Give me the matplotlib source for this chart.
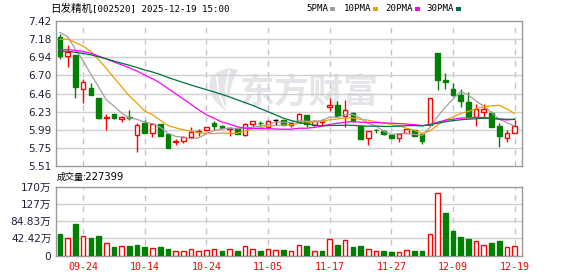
import matplotlib
matplotlib.use("Agg")
import matplotlib.pyplot as plt
import numpy as np
import pandas as pd
from matplotlib.patches import Rectangle, Polygon

# ---------------- data ----------------
dates = ["09-19", "09-22", "09-23", "09-24", "09-25", "09-26", "09-29", "09-30", "10-09", "10-10",
         "10-13", "10-14", "10-15", "10-16", "10-17", "10-20", "10-21", "10-22", "10-23", "10-24",
         "10-27", "10-28", "10-29", "10-30", "10-31", "11-03", "11-04", "11-05", "11-06", "11-07",
         "11-10", "11-11", "11-12", "11-13", "11-14", "11-17", "11-18", "11-19", "11-20", "11-21",
         "11-24", "11-25", "11-26", "11-27", "11-28", "12-01", "12-02", "12-03", "12-04", "12-05",
         "12-08", "12-09", "12-10", "12-11", "12-12", "12-15", "12-16", "12-17", "12-18", "12-19"]

opens = [7.215, 6.96, 6.975, 6.525, 6.535, 6.405, 6.14, 6.195, 6.125, 6.15,
         5.92, 6.075, 5.95, 6.06, 5.93, 5.83, 5.84, 5.89, 5.96, 5.99,
         6.08, 6.04, 6.00, 6.015, 5.92, 6.06, 6.075, 6.03, 6.11, 6.115,
         6.05, 6.085, 6.18, 6.055, 6.095, 6.285, 6.31, 6.17, 6.21, 6.04,
         5.875, 5.99, 5.97, 5.915, 5.88, 5.95, 5.98, 5.925, 6.05, 7.00,
         6.64, 6.52, 6.44, 6.35, 6.15, 6.22, 6.21, 6.04, 5.88, 5.95]
highs = [7.245, 7.10, 6.975, 6.65, 6.60, 6.405, 6.195, 6.20, 6.17, 6.245,
         6.075, 6.115, 6.06, 6.06, 5.93, 5.87, 5.905, 6.03, 5.995, 6.03,
         6.105, 6.045, 6.03, 6.015, 6.075, 6.10, 6.105, 6.11, 6.125, 6.115,
         6.09, 6.21, 6.18, 6.11, 6.125, 6.405, 6.36, 6.38, 6.22, 6.045,
         5.975, 6.00, 5.99, 5.915, 5.925, 6.01, 5.99, 5.94, 6.41, 7.00,
         6.73, 6.60, 6.52, 6.48, 6.33, 6.33, 6.24, 6.08, 5.98, 6.115]
lows = [6.925, 6.815, 6.41, 6.335, 6.44, 6.135, 5.99, 6.135, 6.095, 6.11,
        5.70, 5.945, 5.895, 5.905, 5.745, 5.79, 5.81, 5.89, 5.905, 5.98,
        5.99, 6.005, 5.91, 5.925, 5.91, 6.02, 6.04, 6.02, 6.055, 6.045,
        6.03, 6.07, 6.02, 6.035, 6.04, 6.24, 6.17, 6.02, 6.09, 5.86,
        5.785, 5.95, 5.92, 5.875, 5.83, 5.95, 5.90, 5.80, 6.05, 6.51,
        6.52, 6.43, 6.29, 6.16, 6.04, 6.15, 6.03, 5.765, 5.83, 5.95]
closes = [6.96, 7.01, 6.545, 6.62, 6.45, 6.14, 6.15, 6.14, 6.15, 6.14,
          6.05, 5.945, 6.06, 5.905, 5.75, 5.84, 5.895, 5.955, 5.965, 6.02,
          6.04, 6.01, 6.015, 5.93, 6.06, 6.10, 6.07, 6.105, 6.11, 6.05,
          6.08, 6.195, 6.06, 6.105, 6.10, 6.32, 6.17, 6.245, 6.10, 5.865,
          5.975, 5.985, 5.925, 5.875, 5.925, 5.995, 5.91, 5.845, 6.41, 6.645,
          6.61, 6.44, 6.36, 6.16, 6.26, 6.265, 6.03, 5.91, 5.94, 6.04]
# closes of the 29 sessions before the window (estimated from the MA lines)
prior_closes = [6.95, 7.00, 7.05, 6.98, 6.92, 6.96, 7.02, 7.00, 6.97, 6.95,
                6.90, 6.85, 6.88, 6.92, 6.86, 6.90, 6.95, 6.88, 6.93, 6.93,
                6.98, 7.02, 7.08, 7.15, 7.22, 7.30, 7.38, 7.36, 7.35]
# volume, in 万手
volumes = [53.8, 44, 78, 49, 44, 49, 31, 22, 24.5, 24.5,
           27, 22, 19.6, 22, 17, 11.4, 11.4, 16, 11.4, 14.7,
           16, 12, 16, 12, 23.7, 16, 12, 16, 14.7, 14.7,
           12, 26, 24.5, 11.4, 12, 41, 27, 38, 22, 24.5,
           16, 11.4, 12, 9.8, 9, 14, 12, 12, 53, 156,
           105, 61, 46.5, 41.6, 36.7, 26, 32, 36.7, 22, 22.7399]

ma_periods = [5, 10, 20, 30]
ma_labels = ["5PMA", "10PMA", "20PMA", "30PMA"]
price_ticklabels = ["5.51", "5.75", "5.99", "6.23", "6.46", "6.70", "6.94", "7.18", "7.42"]
vol_ticklabels = ["0", "42.42万", "84.83万", "127万", "170万"]
date_tick_every = 8
date_tick_start = 3
title_name = "日发精机"
title_rest = "[002520] 2025-12-19 15:00"
vol_title = "成交量"

# ---------------- style ----------------
UP = "#ff0000"
DN = "#008000"
MA_COLORS = ["#a0a0a0", "#f0a000", "#ff00ff", "#00703c"]
GRID = "#d0d0d0"
SPINE = "#9a9a9a"
LABEL = "#20203a"

W, H = 578, 276
fig = plt.figure(figsize=(W / 100, H / 100), dpi=100)


def fax(l, t, r, b):
    return fig.add_axes([l / W, 1 - b / H, (r - l) / W, (b - t) / H])


def fp(px, py):
    return (px / W, 1 - py / H)


ax = fax(55.5, 21, 522, 166)
axv = fax(55.5, 187, 522, 255.5)

n = len(closes)
x = np.arange(1, n + 1)
xlim = (0.41, n + 0.96)
bw = 0.6

pmin, pmax = float(price_ticklabels[0]), float(price_ticklabels[-1])
pticks = np.linspace(pmin, pmax, len(price_ticklabels))
vmax = 169.66
vticks = np.linspace(0, vmax, len(vol_ticklabels))

# ---- price axes ----
for a in (ax, axv):
    a.set_xlim(*xlim)
    for s in a.spines.values():
        s.set_color(SPINE)
        s.set_linewidth(1)
    a.set_facecolor("white")

tick_idx = list(range(date_tick_start, n, date_tick_every))
for a in (ax, axv):
    for k in tick_idx:
        a.axvline(x[k], color="#c4c4c4", lw=1, ls=(0, (4, 4)), zorder=1)

ax.set_ylim(pmin, pmax)
ax.set_yticks(pticks)
ax.set_yticklabels(price_ticklabels)
for yv in pticks[1:-1]:
    ax.axhline(yv, color=GRID, lw=1, zorder=1)
ax.tick_params(axis="y", length=0, pad=3, labelsize=7.6, labelcolor=LABEL)
ax.set_xticks([])

# watermark
ax.text(0.395, 0.51, "东方财富", transform=ax.transAxes, fontsize=25,
        family="Noto Sans CJK SC", weight="bold", color="#e4e4e9",
        va="center", ha="left", zorder=0.6)
logo = [(225, 111), (214, 100), (209, 87), (211, 77), (219, 71), (229, 68),
        (238, 70), (233, 80), (229, 95)]
ax.add_patch(Polygon([fp(*p) for p in logo], closed=True, transform=fig.transFigure,
                     facecolor="#e4e4e9", edgecolor="none", zorder=0.6, clip_on=False))
for seg in ([(225, 108), (218, 92), (217, 76)], [(227, 106), (226, 88), (229, 71)]):
    xs, ys = zip(*[fp(*p) for p in seg])
    ax.plot(xs, ys, transform=fig.transFigure, color="white", lw=1.2, zorder=0.7)

# candles
for i in range(n):
    o, h, l, c = opens[i], highs[i], lows[i], closes[i]
    xi = x[i]
    if c > o:
        col, fc = UP, "white"
    elif c < o:
        col, fc = DN, DN
    else:
        col, fc = "#000000", "#000000"
    top, bot = max(o, c), min(o, c)
    if h > top:
        ax.vlines(xi, top, h, color=col, lw=1, zorder=3)
    if l < bot:
        ax.vlines(xi, l, bot, color=col, lw=1, zorder=3)
    if top - bot < 1e-6:
        ax.hlines(top, xi - bw / 2, xi + bw / 2, color=col, lw=1, zorder=3)
    else:
        ax.add_patch(Rectangle((xi - bw / 2, bot), bw, top - bot, facecolor=fc,
                               edgecolor=col, lw=1, zorder=3))

# moving averages
all_closes = pd.Series(prior_closes + closes)
for p, colr in zip(ma_periods, MA_COLORS):
    ma = all_closes.rolling(p).mean().iloc[len(prior_closes):].to_numpy()
    ax.plot(x, ma, color=colr, lw=0.9, zorder=4)

# ---- volume axes ----
prev = [prior_closes[-1]] + closes[:-1]
for i in range(n):
    up = closes[i] >= prev[i]
    if up:
        axv.add_patch(Rectangle((x[i] - bw / 2, 0), bw, volumes[i], facecolor="white",
                                edgecolor=UP, lw=1, zorder=3))
    else:
        axv.add_patch(Rectangle((x[i] - bw / 2, 0), bw, volumes[i], facecolor=DN,
                                edgecolor=DN, lw=1, zorder=3))
axv.set_ylim(0, vmax)
axv.set_yticks(vticks)
axv.set_yticklabels(vol_ticklabels, family=["DejaVu Sans", "Noto Sans CJK SC"])
for yv in vticks[1:-1]:
    axv.axhline(yv, color=GRID, lw=1, zorder=1)
axv.tick_params(axis="y", length=0, pad=3, labelsize=7.6, labelcolor=LABEL)
axv.set_xticks(x[tick_idx])
axv.set_xticklabels([dates[k] for k in tick_idx], family="DejaVu Sans Mono",
                    fontsize=7.2, color=UP)
axv.tick_params(axis="x", length=0, pad=5)

# ---- texts ----
fig.text(*fp(50.5, 8.8), title_name, family="Noto Sans CJK SC", fontsize=7.6,
         va="center", ha="left", color="black")
fig.text(*fp(92.5, 8.8), title_rest, family="DejaVu Sans Mono", fontsize=6.6,
         va="center", ha="left", color="black")

leg_x = [306, 344, 385, 426]
sq_x = [330, 373, 415, 456]
for lx, sx, lab, colr in zip(leg_x, sq_x, ma_labels, MA_COLORS):
    fig.text(*fp(lx, 8.8), lab, family="DejaVu Sans Mono", fontsize=6.6,
             va="center", ha="left", color="black")
    fig.add_artist(Rectangle(fp(sx, 11), 5 / W, 4 / H, transform=fig.transFigure,
                             facecolor=colr, edgecolor="none"))

fig.text(*fp(57, 177.5), vol_title, family="Noto Sans CJK SC", fontsize=6.5,
         va="center", ha="left", color="black")
fig.text(*fp(83, 177.5), ":%d" % round(volumes[-1] * 10000), family="DejaVu Sans",
         fontsize=7.2, va="center", ha="left", color="black")

fig.savefig("out.png", dpi=100)
